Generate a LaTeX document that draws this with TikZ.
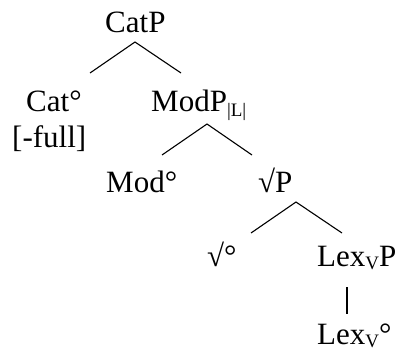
\documentclass[tikz,border=0pt]{standalone}
\usepackage{fontspec}
\setmainfont{Liberation Serif}
\newcommand{\sbs}[1]{\raisebox{-3pt}{\fontsize{19}{19}\selectfont #1}}
\newcommand{\sbl}[1]{\raisebox{-5pt}{\fontsize{19}{19}\selectfont #1}}
\begin{document}
\begin{tikzpicture}[x=1pt,y=-1pt,
  lbl/.style={inner sep=0pt,anchor=base west,font=\fontsize{31}{37}\selectfont},
  br/.style={line width=1.1pt}]
\useasboundingbox (0,0) rectangle (403,351);
\node[lbl] (catp) at (105,32) {CatP};
\node[lbl] (cat) at (26,111) {Cat°};
\node[lbl] (full) at (12,147) {[-full]};
\node[lbl] (modp) at (151,111) {ModP\sbl{|L|}};
\node[lbl] (mod) at (106,192) {Mod°};
\node[lbl] (rootp) at (258,192) {√P};
\node[lbl] (root) at (207,266) {√°};
\node[lbl] (lexp) at (317,266) {Lex\sbs{V}P};
\node[lbl] (lex) at (317,344) {Lex\sbs{V}°};
\coordinate (catp-b) at (135,42);
\coordinate (cat-t) at (90,73);
\coordinate (modp-t) at (181,73);
\coordinate (modp-b) at (207,124);
\coordinate (mod-t) at (162,155);
\coordinate (rootp-t) at (252,155);
\coordinate (rootp-b) at (296,202);
\coordinate (root-t) at (251,233);
\coordinate (lexp-t) at (342,233);
\coordinate (lexp-b) at (347,287);
\coordinate (lex-t) at (347,314);
\draw[br] (cat-t) -- (catp-b) -- (modp-t);
\draw[br] (mod-t) -- (modp-b) -- (rootp-t);
\draw[br] (root-t) -- (rootp-b) -- (lexp-t);
\draw[br] (lexp-b) -- (lex-t);
\end{tikzpicture}
\end{document}
